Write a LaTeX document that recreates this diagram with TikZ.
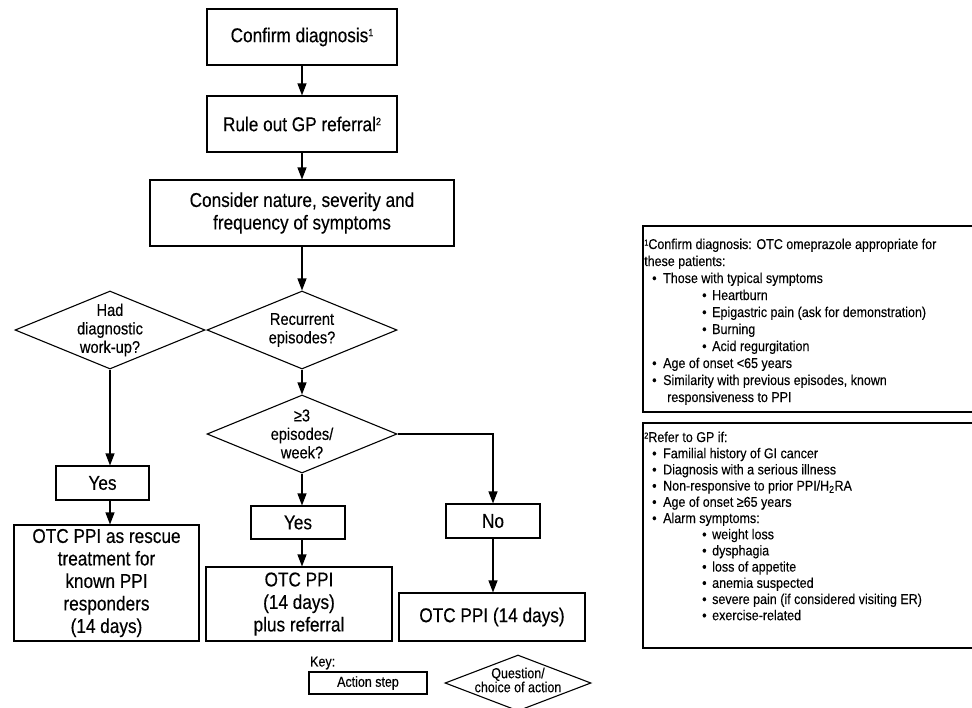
\documentclass[tikz,border=0pt]{standalone}
\usepackage{fontspec}
\setmainfont{Liberation Sans}
\newfontfamily\flowf[FakeStretch=0.86,FakeBold=0.3]{Liberation Sans}
\newfontfamily\notef[FakeStretch=0.88,FakeBold=0.2]{Liberation Sans}
\usetikzlibrary{shapes.geometric,arrows.meta}
\tikzset{
  flowbox/.style={draw, line width=1.1pt, rectangle, inner sep=0pt, align=center,
    font=\flowf\fontsize{20}{22.5}\selectfont},
  dia/.style={draw, line width=1.1pt, diamond, inner sep=0pt},
  diatext/.style={align=center, inner sep=0pt, font=\flowf\fontsize{17}{18.5}\selectfont},
  arr/.style={line width=1.1pt, -{Triangle[width=9pt,length=12pt]}},
  notebox/.style={draw, line width=1.1pt, rectangle, inner sep=0pt},
  nt/.style={anchor=base west, inner sep=0pt, font=\notef\fontsize{14.2}{15}\selectfont},
  keytext/.style={inner sep=0pt, align=center, font=\flowf\fontsize{14.5}{14}\selectfont}
}
\newcommand\bul{\makebox[15pt][l]{\hspace{4pt}•}}
\newcommand\bulb{\makebox[10pt][l]{•}}
\newcommand\supn[1]{\raisebox{3.5pt}{\fontsize{8.5}{9}\selectfont #1}}
\newcommand\supm[1]{\raisebox{6pt}{\fontsize{10.5}{11}\selectfont #1}}
\begin{document}
\begin{tikzpicture}[x=1pt,y=-1pt]
\useasboundingbox (0,0) rectangle (972,707);
\clip (0,0) rectangle (972,707);
% main flow
\node[flowbox, minimum width=190, minimum height=56] (b1) at (302,37) {Confirm diagnosis\supm{1}};
\node[flowbox, minimum width=190, minimum height=56] (b2) at (302,124) {Rule out GP referral\supm{2}};
\node[flowbox, minimum width=304, minimum height=66] (b3) at (302,213) {Consider nature, severity and\\frequency of symptoms};
\node[dia, minimum width=190, minimum height=78] (d1) at (110,330) {};
\node[diatext] (d1t) at (110,330) {Had\\diagnostic\\work-up?};
\node[dia, minimum width=190, minimum height=78] (d2) at (302,330) {};
\node[diatext] (d2t) at (302,330) {Recurrent\\episodes?};
\node[dia, minimum width=190, minimum height=78] (d3) at (302,434) {};
\node[diatext] (d3t) at (302,434) {≥3\\episodes/\\week?};
\node[flowbox, minimum width=93, minimum height=34] (yesL) at (102.5,483) {Yes};
\node[flowbox, minimum width=185, minimum height=116] (bigL) at (106.5,583) {OTC PPI as rescue\\treatment for\\known PPI\\responders\\(14 days)};
\node[flowbox, minimum width=94, minimum height=33] (yesM) at (298,522.5) {Yes};
\node[flowbox, minimum width=186, minimum height=74] (refM) at (299,604) {OTC PPI\\(14 days)\\plus referral};
\node[flowbox, minimum width=94, minimum height=34] (noR) at (493,521) {No};
\node[flowbox, minimum width=186, minimum height=48] (otcR) at (492,617) {OTC PPI (14 days)};
% connectors
\draw[arr] (b1.south) -- (b2.north);
\draw[arr] (b2.south) -- (b2.south |- b3.north);
\draw[arr] (b3.south -| d2.north) -- (d2.north);
\draw[arr] (d2.south) -- (d3.north);
\draw[arr] (d1.south) -- (d1.south |- yesL.north);
\draw[arr] (d1.south |- yesL.south) -- (d1.south |- bigL.north);
\draw[arr] (d3.south) -- (d3.south |- yesM.north);
\draw[arr] (d3.south |- yesM.south) -- (d3.south |- refM.north);
\draw[arr] (d3.east) -| (noR.north);
\draw[arr] (noR.south) -- (noR.south |- otcR.north);
% key
\node[keytext, anchor=west] (keyl) at (310,663) {Key:};
\node[flowbox, minimum width=118, minimum height=22, font=\flowf\fontsize{14.5}{14}\selectfont] (keyb) at (368,683) {Action step};
\node[dia, minimum width=146, minimum height=56] (keyd) at (518,683) {};
\node[keytext] (keydt) at (518,680) {Question/\\choice of action};
% note 1
\node[notebox, minimum width=342, minimum height=186] (note1) at (814,319) {};
\node[nt] (n1a) at (644,249) {\supn{1}Confirm diagnosis: OTC omeprazole appropriate for};
\node[nt] (n1b) at (644,266) {these patients:};
\node[nt] (n1c) at (648,283) {\bul Those with typical symptoms};
\node[nt] (n1d) at (702,300) {\bulb Heartburn};
\node[nt] (n1e) at (702,317) {\bulb Epigastric pain (ask for demonstration)};
\node[nt] (n1f) at (702,334) {\bulb Burning};
\node[nt] (n1g) at (702,351) {\bulb Acid regurgitation};
\node[nt] (n1h) at (648,368) {\bul Age of onset <65 years};
\node[nt] (n1i) at (648,385) {\bul Similarity with previous episodes, known};
\node[nt] (n1j) at (667,402) {responsiveness to PPI};
% note 2
\node[notebox, minimum width=342, minimum height=225] (note2) at (814,535.5) {};
\node[nt] (n2a) at (644,442) {\supn{2}Refer to GP if:};
\node[nt] (n2b) at (648,458.2) {\bul Familial history of GI cancer};
\node[nt] (n2c) at (648,474.4) {\bul Diagnosis with a serious illness};
\node[nt] (n2d) at (648,490.6) {\bul Non-responsive to prior PPI/H\textsubscript{2}RA};
\node[nt] (n2e) at (648,506.8) {\bul Age of onset ≥65 years};
\node[nt] (n2f) at (648,523) {\bul Alarm symptoms:};
\node[nt] (n2g) at (702,539.2) {\bulb weight loss};
\node[nt] (n2h) at (702,555.4) {\bulb dysphagia};
\node[nt] (n2i) at (702,571.6) {\bulb loss of appetite};
\node[nt] (n2j) at (702,587.8) {\bulb anemia suspected};
\node[nt] (n2k) at (702,604) {\bulb severe pain (if considered visiting ER)};
\node[nt] (n2l) at (702,620.2) {\bulb exercise-related};
\end{tikzpicture}
\end{document}
